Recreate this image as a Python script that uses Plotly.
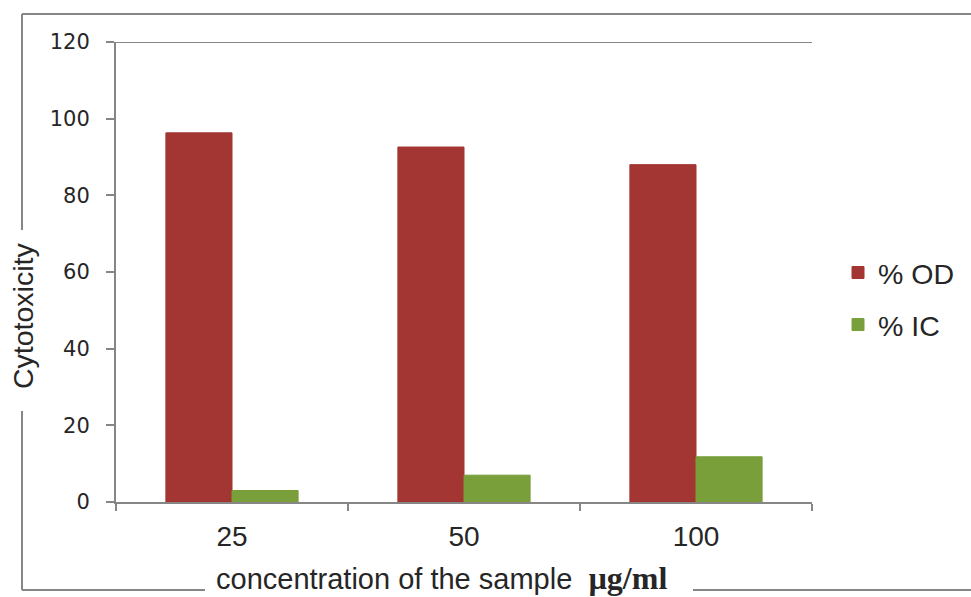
import plotly.graph_objects as go

# ---- data ----
categories = ["25", "50", "100"]
od_values = [96.3, 92.6, 88.0]
ic_values = [3.0, 7.0, 11.8]
series_names = ["% OD", "% IC"]
y_ticks = [0, 20, 40, 60, 80, 100, 120]

W, H = 971, 597
L, R, T, B = 116, 159, 42, 95
PW, PH = W - L - R, H - T - B


def px(x):
    return (x - L) / PW


def py(y):
    return (H - B - y) / PH


font_main = "Liberation Sans, Arial, sans-serif"
txt = "#262626"
axis_gray = "#868686"

fig = go.Figure()
fig.add_trace(go.Bar(x=categories, y=od_values, name=series_names[0],
                     marker=dict(color="#A33533", line=dict(width=1, color="#A33533")),
                     legendgroup="a"))
fig.add_trace(go.Bar(x=categories, y=ic_values, name=series_names[1],
                     marker=dict(color="#799F3B", line=dict(width=1, color="#799F3B")),
                     legendgroup="b"))

fig.update_layout(
    width=W, height=H,
    margin=dict(l=L, r=R, t=T, b=B, pad=0, autoexpand=False),
    paper_bgcolor="white", plot_bgcolor="white",
    barmode="group", bargap=0.43, bargroupgap=0,
    font=dict(family=font_main, color=txt, size=28),
    showlegend=True,
    legend=dict(x=px(838), xanchor="left", y=py(299), yanchor="middle",
                font=dict(size=28.5, family=font_main, color=txt),
                tracegroupgap=12, bgcolor="rgba(0,0,0,0)",
                itemclick=False),
)

fig.update_xaxes(
    type="category", tickson="boundaries", ticks="outside", ticklen=7,
    tickwidth=2, tickcolor=axis_gray, showline=True, linecolor=axis_gray,
    linewidth=2, showgrid=False, zeroline=False,
    tickfont=dict(size=28, family=font_main, color=txt),
    ticklabelstandoff=8,
)
fig.update_yaxes(
    range=[0, 120], tickvals=y_ticks, ticks="outside", ticklen=8,
    tickwidth=2, tickcolor=axis_gray, showline=True, linecolor=axis_gray,
    linewidth=2, showgrid=False, zeroline=False,
    tickfont=dict(size=21, family="DejaVu Sans, Verdana, sans-serif", color=txt),
    ticklabelstandoff=12,
)

# top border of plot area (at 120)
shapes = [dict(type="line", xref="paper", yref="y", x0=0, x1=1, y0=120, y1=120,
               line=dict(color=axis_gray, width=2), layer="below")]

# outer chart frame with gaps for titles
frame_segments = [
    ((22, 14), (975, 14)),
    ((22, 14), (22, 230)),
    ((22, 411), (22, 590)),
    ((22, 590), (205, 590)),
    ((693, 590), (975, 590)),
]
for (x0, y0), (x1, y1) in frame_segments:
    shapes.append(dict(type="line", xref="paper", yref="paper",
                       x0=px(x0), y0=py(y0), x1=px(x1), y1=py(y1),
                       line=dict(color=axis_gray, width=2)))
fig.update_layout(shapes=shapes)

fig.add_annotation(
    text="Cytotoxicity", textangle=-90, xref="paper", yref="paper",
    x=px(23), y=py(316), xanchor="center", yanchor="middle", showarrow=False,
    font=dict(size=28.5, family=font_main, color=txt),
)
fig.add_annotation(
    text="concentration of the sample\u00a0\u00a0<span style='font-family:Liberation Serif, Times New Roman, serif; font-weight:bold; font-size:32px'>\u00b5g/ml</span>",
    xref="paper", yref="paper",
    x=px(441), y=py(578), xanchor="center", yanchor="middle", showarrow=False,
    font=dict(size=29, family=font_main, color=txt),
)

fig.write_html("out.html")
